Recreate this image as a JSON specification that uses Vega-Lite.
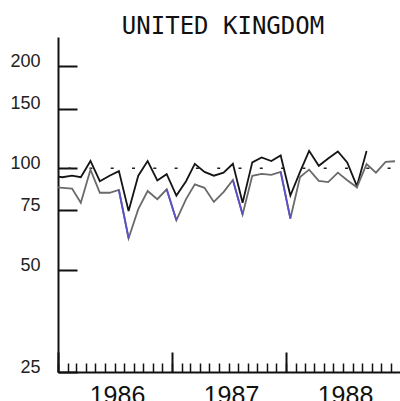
{
  "$schema": "https://vega.github.io/schema/vega-lite/v6.json",
  "autosize": {"type": "none"},
  "padding": {"left": 58, "top": 37, "right": 0, "bottom": 29},
  "width": 342,
  "height": 335,
  "background": "white",
  "config": {"view": {"stroke": null}},
  "title": {"text": "UNITED KINGDOM", "font": "DejaVu Sans Mono", "fontSize": 24, "fontWeight": "normal", "color": "#111", "anchor": "middle", "frame": "group", "dx": -6, "dy": 25, "offset": 4, "baseline": "alphabetic"},
  "datasets": {
    "index": [
      {"date": "1985-12-15", "series": "black", "value": 95},
      {"date": "1986-01-15", "series": "black", "value": 94},
      {"date": "1986-02-15", "series": "black", "value": 95},
      {"date": "1986-03-15", "series": "black", "value": 94},
      {"date": "1986-04-15", "series": "black", "value": 105},
      {"date": "1986-05-15", "series": "black", "value": 91.5},
      {"date": "1986-06-15", "series": "black", "value": 95},
      {"date": "1986-07-15", "series": "black", "value": 98},
      {"date": "1986-08-15", "series": "black", "value": 74.7},
      {"date": "1986-09-15", "series": "black", "value": 95},
      {"date": "1986-10-15", "series": "black", "value": 105},
      {"date": "1986-11-15", "series": "black", "value": 92},
      {"date": "1986-12-15", "series": "black", "value": 96},
      {"date": "1987-01-15", "series": "black", "value": 83},
      {"date": "1987-02-15", "series": "black", "value": 91.5},
      {"date": "1987-03-15", "series": "black", "value": 103},
      {"date": "1987-04-15", "series": "black", "value": 97.5},
      {"date": "1987-05-15", "series": "black", "value": 95},
      {"date": "1987-06-15", "series": "black", "value": 97},
      {"date": "1987-07-15", "series": "black", "value": 103},
      {"date": "1987-08-15", "series": "black", "value": 79},
      {"date": "1987-09-15", "series": "black", "value": 104},
      {"date": "1987-10-15", "series": "black", "value": 107.5},
      {"date": "1987-11-15", "series": "black", "value": 105},
      {"date": "1987-12-15", "series": "black", "value": 109},
      {"date": "1988-01-15", "series": "black", "value": 83},
      {"date": "1988-02-15", "series": "black", "value": 97.5},
      {"date": "1988-03-15", "series": "black", "value": 112.5},
      {"date": "1988-04-15", "series": "black", "value": 101.6},
      {"date": "1988-05-15", "series": "black", "value": 106.8},
      {"date": "1988-06-15", "series": "black", "value": 112},
      {"date": "1988-07-15", "series": "black", "value": 104},
      {"date": "1988-08-15", "series": "black", "value": 88.5},
      {"date": "1988-09-15", "series": "black", "value": 112.3},
      {"date": "1985-12-15", "series": "gray", "value": 88},
      {"date": "1986-01-15", "series": "gray", "value": 87.5},
      {"date": "1986-02-15", "series": "gray", "value": 87},
      {"date": "1986-03-15", "series": "gray", "value": 79},
      {"date": "1986-04-15", "series": "gray", "value": 99},
      {"date": "1986-05-15", "series": "gray", "value": 84.6},
      {"date": "1986-06-15", "series": "gray", "value": 84.6},
      {"date": "1986-07-15", "series": "gray", "value": 86.2},
      {"date": "1986-08-15", "series": "gray", "value": 62.1},
      {"date": "1986-09-15", "series": "gray", "value": 75.7},
      {"date": "1986-10-15", "series": "gray", "value": 85.6},
      {"date": "1986-11-15", "series": "gray", "value": 81},
      {"date": "1986-12-15", "series": "gray", "value": 86.6},
      {"date": "1987-01-15", "series": "gray", "value": 70.2},
      {"date": "1987-02-15", "series": "gray", "value": 81},
      {"date": "1987-03-15", "series": "gray", "value": 89.6},
      {"date": "1987-04-15", "series": "gray", "value": 87.5},
      {"date": "1987-05-15", "series": "gray", "value": 79.5},
      {"date": "1987-06-15", "series": "gray", "value": 85},
      {"date": "1987-07-15", "series": "gray", "value": 92.3},
      {"date": "1987-08-15", "series": "gray", "value": 73},
      {"date": "1987-09-15", "series": "gray", "value": 94.9},
      {"date": "1987-10-15", "series": "gray", "value": 96.2},
      {"date": "1987-11-15", "series": "gray", "value": 95.5},
      {"date": "1987-12-15", "series": "gray", "value": 97.5},
      {"date": "1988-01-15", "series": "gray", "value": 71},
      {"date": "1988-02-15", "series": "gray", "value": 94.2},
      {"date": "1988-03-15", "series": "gray", "value": 99},
      {"date": "1988-04-15", "series": "gray", "value": 91.7},
      {"date": "1988-05-15", "series": "gray", "value": 91},
      {"date": "1988-06-15", "series": "gray", "value": 97},
      {"date": "1988-07-15", "series": "gray", "value": 92.1},
      {"date": "1988-08-15", "series": "gray", "value": 87.8},
      {"date": "1988-09-15", "series": "gray", "value": 102.8},
      {"date": "1988-10-15", "series": "gray", "value": 97},
      {"date": "1988-11-15", "series": "gray", "value": 104.4},
      {"date": "1988-12-15", "series": "gray", "value": 104.8}
    ],
    "drops": [
      {"date": "1986-07-15", "seg": 1, "value": 86.2},
      {"date": "1986-08-15", "seg": 1, "value": 62.1},
      {"date": "1986-12-15", "seg": 2, "value": 86.6},
      {"date": "1987-01-15", "seg": 2, "value": 70.2},
      {"date": "1987-07-15", "seg": 3, "value": 92.3},
      {"date": "1987-08-15", "seg": 3, "value": 73},
      {"date": "1987-12-15", "seg": 4, "value": 97.5},
      {"date": "1988-01-15", "seg": 4, "value": 71}
    ],
    "base": [
      {"value": 100}
    ]
  },
  "resolve": {"axis": {"x": "independent", "y": "independent"}},
  "layer": [
    {
      "data": {"name": "base"},
      "mark": {"type": "rule", "color": "#222", "strokeWidth": 1.5, "strokeDash": [3, 18.3], "strokeDashOffset": 11.9},
      "encoding": {"y": {"field": "value", "type": "quantitative", "axis": null, "scale": {"type": "log", "domain": [25, 244], "nice": false, "zero": false}}}
    },
    {
      "data": {"name": "index"},
      "mark": {"type": "line", "strokeWidth": 1.8, "clip": true},
      "encoding": {
        "x": {"field": "date", "type": "temporal",
              "scale": {"type": "utc", "domain": ["1986-01-01", "1988-12-31"], "nice": false},
              "axis": {"orient": "bottom", "tickCount": {"interval": "month", "step": 1}, "tickSize": -9, "tickWidth": 1.5, "tickColor": "#111", "domainWidth": 2, "domainColor": "#111", "labels": false, "grid": false, "title": null}},
        "y": {"field": "value", "type": "quantitative",
              "axis": {"orient": "left", "values": [25, 50, 75, 100, 150, 200], "tickSize": -19, "tickWidth": 2, "tickColor": "#111", "domainWidth": 2, "domainColor": "#111", "grid": false, "title": null, "labelFont": "Liberation Sans", "labelFontSize": 18, "labelColor": "#222", "labelPadding": 37, "labelOffset": -5, "labelOverlap": false, "labelFlush": false}},
        "color": {"field": "series", "type": "nominal", "scale": {"domain": ["black", "gray"], "range": ["#151515", "#6a6a6a"]}, "legend": null}
      }
    },
    {
      "data": {"name": "drops"},
      "mark": {"type": "line", "strokeWidth": 1.8, "color": "#5a4fcf", "clip": true},
      "encoding": {
        "x": {"field": "date", "type": "temporal",
              "axis": {"orient": "bottom", "values": ["1986-01-01", "1987-01-01", "1988-01-01"], "format": "%Y", "tickSize": -20, "tickWidth": 2, "tickColor": "#111", "domain": false, "grid": false, "title": null, "labelFont": "Liberation Sans", "labelFontSize": 25, "labelColor": "#111", "labelOffset": 59, "labelPadding": 31, "labelBaseline": "top", "labelFlush": false, "labelOverlap": false, "labelBound": false}},
        "y": {"field": "value", "type": "quantitative", "axis": null},
        "detail": {"field": "seg", "type": "nominal"}
      }
    }
  ]
}
